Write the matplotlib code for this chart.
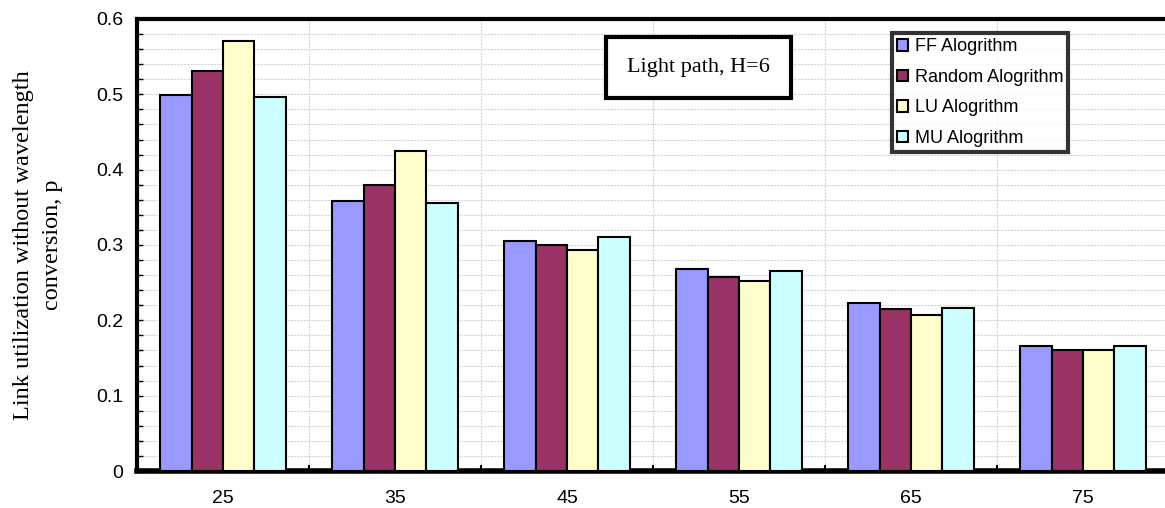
import numpy as np
import matplotlib.pyplot as plt
from matplotlib.ticker import MultipleLocator, FixedLocator, NullFormatter

# --- data ---
loads    = ['25', '35', '45', '55', '65', '75']
series   = ['FF Alogrithm', 'Random Alogrithm', 'LU Alogrithm', 'MU Alogrithm']
ff       = [0.499, 0.358, 0.305, 0.268, 0.223, 0.166]
rnd      = [0.531, 0.380, 0.300, 0.257, 0.215, 0.161]
lu       = [0.571, 0.425, 0.294, 0.252, 0.207, 0.161]
mu       = [0.496, 0.356, 0.310, 0.265, 0.217, 0.166]
colors   = ['#9999ff', '#993366', '#ffffcc', '#ccffff']

sans  = ['Liberation Sans', 'DejaVu Sans']
serif = ['Liberation Serif', 'DejaVu Serif']
plt.rcParams['font.family'] = sans

fig = plt.figure(figsize=(11.65, 5.08), dpi=100)
ax = fig.add_axes([137 / 1165, 37 / 508, 1032 / 1165, 452 / 508])

x = np.arange(len(loads))
w = 0.183
for i, (vals, c, lab) in enumerate(zip([ff, rnd, lu, mu], colors, series)):
    ax.bar(x + (i - 1.5) * w, vals, width=w, color=c, edgecolor='black',
           linewidth=1.5, label=lab, zorder=3)

ax.set_xlim(-0.5, len(loads) - 0.5)
ax.set_ylim(0, 0.6)

grid_kw = dict(color='#d4d4d4', linestyle=(0, (2, 1)), linewidth=0.8, zorder=0)

# y axis: labels every 0.1, gridlines every 0.02
ax.yaxis.set_major_locator(MultipleLocator(0.1))
ax.yaxis.set_minor_locator(MultipleLocator(0.02))
ax.yaxis.set_major_formatter(lambda v, pos: '0' if abs(v) < 1e-9 else f'{v:.1f}')
ax.tick_params(axis='y', which='both', direction='in', length=4, width=1,
               pad=10, labelsize=14)
ax.grid(axis='y', which='both', **grid_kw)

# x axis: ticks on category edges, labels at centres
ax.xaxis.set_major_locator(FixedLocator(np.arange(0.5, len(loads) - 0.5, 1)))
ax.xaxis.set_major_formatter(NullFormatter())
ax.set_xticks(x, loads, minor=True)
ax.tick_params(axis='x', which='major', direction='in', length=4, width=1.5)
ax.tick_params(axis='x', which='minor', length=0, pad=14, labelsize=14)
ax.grid(axis='x', which='major', **grid_kw)

for side, lw in [('left', 3), ('bottom', 4), ('top', 3), ('right', 3)]:
    ax.spines[side].set_linewidth(lw)

ax.set_ylabel('Link utilization without wavelength\nconversion, p',
              family=serif, fontsize=17.5, labelpad=24, linespacing=1.45)

ax.text(0.544, 0.893, 'Light path, H=6', transform=ax.transAxes,
        ha='center', va='center', family=serif, fontsize=16, zorder=5,
        bbox=dict(boxstyle='square,pad=0.95', facecolor='white',
                  edgecolor='black', linewidth=3))

leg = ax.legend(loc='upper left', bbox_to_anchor=(755 / 1032, 1 - 14 / 452),
                prop={'family': sans, 'size': 13}, frameon=True, fancybox=False,
                handlelength=0.6, handleheight=0.6, handletextpad=0.35,
                labelspacing=0.75, borderpad=0.3, borderaxespad=0)
leg.get_frame().set_edgecolor('black')
leg.get_frame().set_linewidth(3)
leg.set_zorder(6)

fig.savefig('out.png', dpi=100)
